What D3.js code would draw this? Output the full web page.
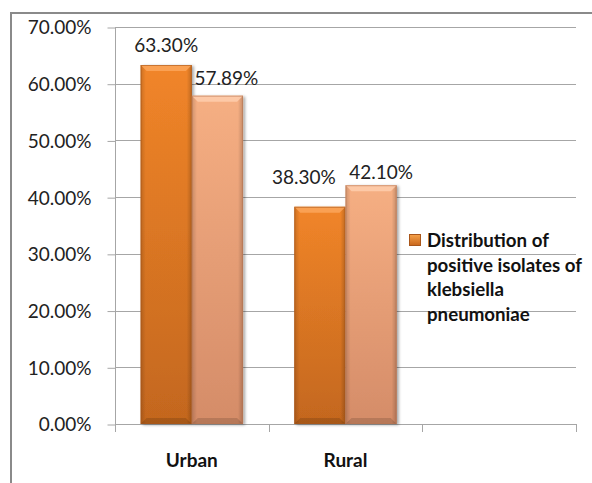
<!DOCTYPE html>
<html>
<head>
<meta charset="utf-8">
<script src="https://cdn.jsdelivr.net/npm/d3@7"></script>
<style>
  html, body { margin: 0; padding: 0; background: #fff; }
  svg { display: block; }
  text { font-family: Lato, "Open Sans", sans-serif; }
</style>
</head>
<body>
<svg id="chart" width="592" height="483"></svg>
<script>
// Chart data
const categories = ["Urban", "Rural", ""];
const seriesNames = ["a", "b"];
const urbanValues = [0.633, 0.5789];
const ruralValues = [0.383, 0.421];
const valueLabels = [["63.30%", "57.89%"], ["38.30%", "42.10%"]];
const yTicks = [0, 0.1, 0.2, 0.3, 0.4, 0.5, 0.6, 0.7];
const legendLines = ["Distribution of", "positive isolates of", "klebsiella", "pneumoniae"];

// Label nudges (dx, dy above bar top) so labels clear each other
const labelNudge = [[[0, 13], [9, 11]], [[-16, 23], [10, 6]]];

const rows = [urbanValues, ruralValues];

const svg = d3.select("#chart");
const margin = { left: 115, right: 576, top: 27, bottom: 424 };

const y = d3.scaleLinear().domain([0, 0.7]).range([margin.bottom, margin.top]);
const x = d3.scaleBand().domain(categories).range([margin.left, margin.right]).padding(0);
const xs = d3.scaleBand().domain(seriesNames).range([0, x.bandwidth()]).paddingInner(0).paddingOuter(0.5);

// Outer frame
svg.append("rect")
  .attr("x", 11).attr("y", 13).attr("width", 620).attr("height", 520)
  .attr("fill", "none").attr("stroke", "#8a8a8a").attr("stroke-width", 2);

const defs = svg.append("defs");
const palettes = [
  { id: "dark", top: "#f8892a", bottom: "#c96a1f", edge: "#a9561a", hi: "#fca85e" },
  { id: "light", top: "#fdb487", bottom: "#db906b", edge: "#b87452", hi: "#ffd0b0" }
];
palettes.forEach(p => {
  const g = defs.append("linearGradient").attr("id", "g-" + p.id)
    .attr("x1", 0).attr("y1", 0).attr("x2", 0).attr("y2", 1);
  g.append("stop").attr("offset", "0%").attr("stop-color", p.top);
  g.append("stop").attr("offset", "100%").attr("stop-color", p.bottom);
});
const sideGrad = defs.append("linearGradient").attr("id", "side")
  .attr("x1", 0).attr("y1", 0).attr("x2", 1).attr("y2", 0);
sideGrad.append("stop").attr("offset", "0%").attr("stop-color", "#000").attr("stop-opacity", 0.18);
sideGrad.append("stop").attr("offset", "10%").attr("stop-color", "#000").attr("stop-opacity", 0.03);
sideGrad.append("stop").attr("offset", "90%").attr("stop-color", "#000").attr("stop-opacity", 0.03);
sideGrad.append("stop").attr("offset", "100%").attr("stop-color", "#000").attr("stop-opacity", 0.22);

const shadow = defs.append("filter").attr("id", "shadow")
  .attr("x", "-20%").attr("y", "-5%").attr("width", "150%").attr("height", "115%");
shadow.append("feDropShadow").attr("dx", 2).attr("dy", 1).attr("stdDeviation", 1.6)
  .attr("flood-color", "#000").attr("flood-opacity", 0.35);

const legGrad = defs.append("linearGradient").attr("id", "leg")
  .attr("x1", 0).attr("y1", 0).attr("x2", 0).attr("y2", 1);
legGrad.append("stop").attr("offset", "0%").attr("stop-color", "#f6a24a");
legGrad.append("stop").attr("offset", "100%").attr("stop-color", "#c8661c");

// Gridlines
svg.append("g").selectAll("line").data(yTicks.slice(1)).join("line")
  .attr("x1", margin.left).attr("x2", margin.right)
  .attr("y1", d => Math.round(y(d)) + 0.5).attr("y2", d => Math.round(y(d)) + 0.5)
  .attr("stroke", "#a6a6a6").attr("stroke-width", 1);

// Y axis
const yAxis = d3.axisLeft(y).tickValues(yTicks).tickSize(8)
  .tickFormat(d => d3.format(".2%")(d));
const yg = svg.append("g").attr("transform", `translate(${margin.left + 0.5},0.5)`).call(yAxis);
yg.select(".domain").attr("stroke", "#a6a6a6").attr("d", `M0,${margin.top}V${margin.bottom}`);
yg.selectAll(".tick line").attr("stroke", "#a6a6a6");
yg.selectAll(".tick text")
  .attr("x", -24).attr("dy", "0.34em")
  .attr("font-family", "Lato, sans-serif").attr("font-size", 19).attr("fill", "#222");

// X axis baseline with ticks at band boundaries
const xg = svg.append("g");
xg.append("line")
  .attr("x1", margin.left).attr("x2", margin.right + 0.5)
  .attr("y1", margin.bottom + 0.5).attr("y2", margin.bottom + 0.5)
  .attr("stroke", "#a6a6a6");
const boundaries = categories.map(c => x(c)).concat([x(categories[categories.length - 1]) + x.bandwidth()]);
xg.selectAll("line.tk").data(boundaries).join("line").attr("class", "tk")
  .attr("x1", d => Math.round(d) + 0.5).attr("x2", d => Math.round(d) + 0.5)
  .attr("y1", margin.bottom).attr("y2", margin.bottom + 8)
  .attr("stroke", "#a6a6a6");
xg.selectAll("text").data(categories.filter(c => c)).join("text")
  .attr("x", d => x(d) + x.bandwidth() / 2)
  .attr("y", 467)
  .attr("text-anchor", "middle")
  .attr("font-weight", "bold").attr("font-size", 19).attr("fill", "#111")
  .text(d => d);

// Bars with bevel
const bev = 6;
const barsG = svg.append("g");
rows.forEach((vals, ci) => {
  const cat = categories[ci];
  vals.forEach((v, si) => {
    const p = palettes[si];
    const x0 = x(cat) + xs(seriesNames[si]);
    const w = xs.bandwidth();
    const y0 = y(v), y1 = y(0);
    const g = barsG.append("g");
    g.append("rect").attr("x", x0).attr("y", y0).attr("width", w).attr("height", y1 - y0)
      .attr("fill", `url(#g-${p.id})`).attr("filter", "url(#shadow)");
    g.append("rect").attr("x", x0).attr("y", y0).attr("width", w).attr("height", y1 - y0)
      .attr("fill", "url(#side)");
    // top bevel
    g.append("path")
      .attr("d", `M${x0},${y0}H${x0 + w}L${x0 + w - bev},${y0 + bev}H${x0 + bev}Z`)
      .attr("fill", p.hi).attr("opacity", 0.8);
    // bottom bevel
    g.append("path")
      .attr("d", `M${x0},${y1}H${x0 + w}L${x0 + w - bev},${y1 - bev}H${x0 + bev}Z`)
      .attr("fill", "#000").attr("opacity", 0.14);
    g.append("rect").attr("x", x0 + 0.5).attr("y", y0 + 0.5).attr("width", w - 1).attr("height", y1 - y0 - 1)
      .attr("fill", "none").attr("stroke", p.edge).attr("stroke-opacity", 0.6);
    // value label
    const n = labelNudge[ci][si];
    g.append("text")
      .attr("x", x0 + w / 2 + n[0]).attr("y", y0 - n[1])
      .attr("text-anchor", "middle").attr("font-size", 19).attr("fill", "#222")
      .text(valueLabels[ci][si]);
  });
});

// Legend
const lg = svg.append("g");
lg.append("rect").attr("x", 409.5).attr("y", 234.5).attr("width", 11).attr("height", 11)
  .attr("fill", "url(#leg)").attr("stroke", "#a9561a").attr("stroke-width", 1);
lg.selectAll("text").data(legendLines).join("text")
  .attr("x", 427).attr("y", (d, i) => 247 + i * 24.5)
  .attr("font-weight", "bold").attr("font-size", 18.7).attr("fill", "#111")
  .text(d => d);
</script>
</body>
</html>
